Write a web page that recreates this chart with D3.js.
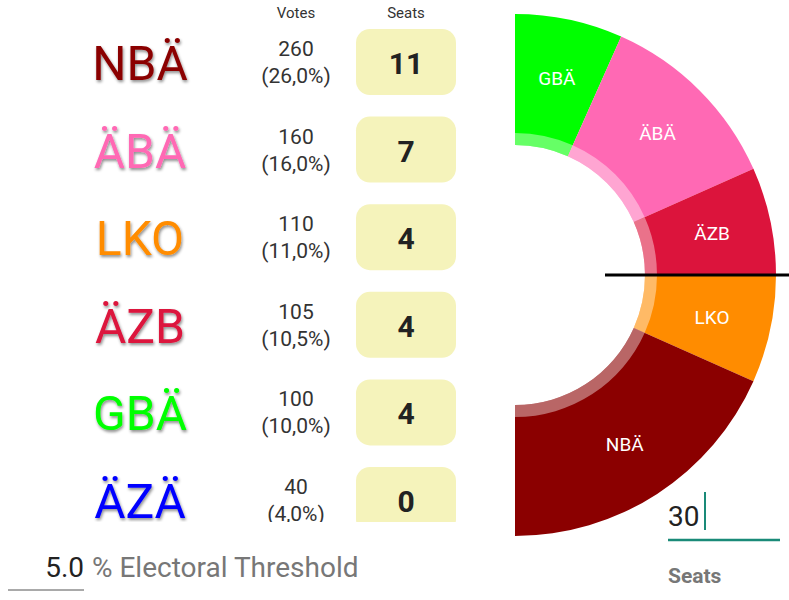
<!DOCTYPE html><html><head><meta charset="utf-8"><script src="https://cdn.jsdelivr.net/npm/d3@7"></script>
<style>body{margin:0;background:#fff}text{font-family:Roboto,sans-serif}</style></head><body>
<svg id="c" width="789" height="600"></svg>
<script>
const parties=["NBÄ","ÄBÄ","LKO","ÄZB","GBÄ","ÄZÄ"];
const colors=["#8b0000","#ff69b4","#ff8c00","#dc143c","#00ff00","#0000ff"];
const votes=[260,160,110,105,100,40];
const pct=["26,0%","16,0%","11,0%","10,5%","10,0%","4,0%"];
const seats=[11,7,4,4,4,0];
const arcOrder=["GBÄ","ÄBÄ","ÄZB","LKO","NBÄ"];
const totalSeats=30, threshold="5.0";
const svg=d3.select("#c");
const defs=svg.append("defs");
const f=defs.append("filter").attr("id","sh").attr("x","-10%").attr("y","-10%").attr("width","130%").attr("height","140%");
f.append("feDropShadow").attr("dx",1).attr("dy",2).attr("stdDeviation",1.5).attr("flood-opacity",0.45);
defs.append("clipPath").attr("id","lc").append("rect").attr("x",0).attr("y",0).attr("width",500).attr("height",522);
const y=d3.scaleLinear().domain([0,1]).range([63,150.6]);
const L=svg.append("g").attr("clip-path","url(#lc)");
L.append("text").attr("x",296).attr("y",18).attr("text-anchor","middle").attr("font-size",15).attr("fill","#333").text("Votes");
L.append("text").attr("x",406).attr("y",18).attr("text-anchor","middle").attr("font-size",15).attr("fill","#333").text("Seats");
parties.forEach((p,i)=>{
  const cy=y(i);
  L.append("text").attr("x",140).attr("y",cy+17).attr("text-anchor","middle").attr("font-size",48).attr("fill",colors[i]).attr("filter","url(#sh)").text(p);
  L.append("text").attr("x",296).attr("y",cy-7).attr("text-anchor","middle").attr("font-size",21).attr("fill","#333").text(votes[i]);
  L.append("text").attr("x",296).attr("y",cy+20).attr("text-anchor","middle").attr("font-size",21).attr("fill","#333").text("("+pct[i]+")");
  L.append("rect").attr("x",356).attr("y",cy-34).attr("width",100).attr("height",66).attr("rx",14).attr("fill","#f5f3bb");
  L.append("text").attr("x",406).attr("y",cy+11).attr("text-anchor","middle").attr("font-size",30).attr("font-weight","bold").attr("fill","#222").text(seats[i]);
});
// donut
const cx=515,cyy=275,R=261,r=130;
const a=d3.scaleLinear().domain([0,totalSeats]).range([0,Math.PI]);
const G=svg.append("g").attr("transform",`translate(${cx},${cyy})`);
let acc=0;
arcOrder.forEach(p=>{
  const i=parties.indexOf(p),s=seats[i];
  const a0=a(acc),a1=a(acc+s);acc+=s;
  const arc=d3.arc().innerRadius(r).outerRadius(R).startAngle(a0).endAngle(a1);
  G.append("path").attr("d",arc()).attr("fill",colors[i]);
  G.append("path").attr("d",d3.arc().innerRadius(r).outerRadius(r+12).startAngle(a0).endAngle(a1)()).attr("fill","#fff").attr("opacity",0.4);
  const c=d3.arc().innerRadius(r+12).outerRadius(R).startAngle(a0).endAngle(a1).centroid();
  G.append("text").attr("x",c[0]).attr("y",c[1]+7).attr("text-anchor","middle").attr("font-size",19).attr("fill","#fff").text(p);
});
G.append("line").attr("x1",90).attr("x2",274).attr("y1",0).attr("y2",0).attr("stroke","#000").attr("stroke-width",3);
// bottom controls
svg.append("text").attr("x",84).attr("y",577).attr("text-anchor","end").attr("font-size",28).attr("fill","#222").text(threshold);
svg.append("line").attr("x1",8).attr("x2",84).attr("y1",590).attr("y2",590).attr("stroke","#555").attr("stroke-width",1);
svg.append("text").attr("x",92).attr("y",577).attr("font-size",28).attr("fill","#777").text("% Electoral Threshold");
svg.append("text").attr("x",668).attr("y",526).attr("font-size",28).attr("fill","#222").text(totalSeats);
svg.append("line").attr("x1",705).attr("x2",705).attr("y1",492).attr("y2",530).attr("stroke","#1a8a78").attr("stroke-width",2);
svg.append("line").attr("x1",668).attr("x2",780).attr("y1",540).attr("y2",540).attr("stroke","#1a8a78").attr("stroke-width",2.5);
svg.append("text").attr("x",668).attr("y",583).attr("font-size",21).attr("font-weight","bold").attr("fill","#777").text("Seats");
</script></body></html>
